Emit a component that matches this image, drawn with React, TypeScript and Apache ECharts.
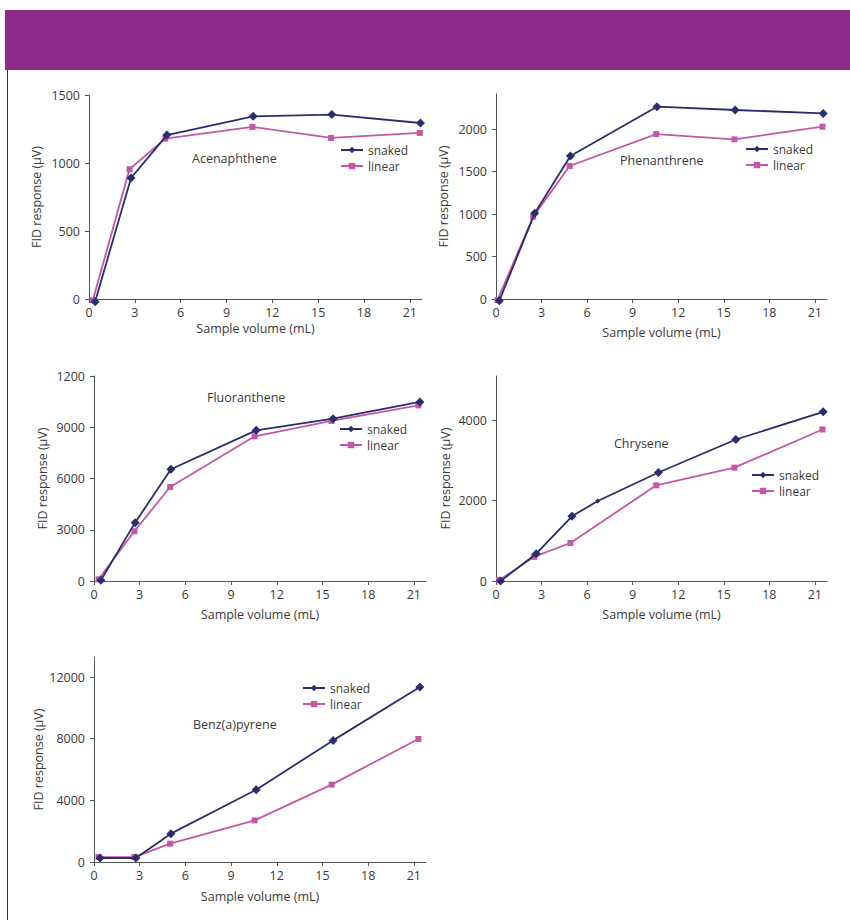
import React, { useEffect, useRef } from "react";
import * as echarts from "echarts";

// ---------- data ----------
const compounds = ["Acenaphthene", "Phenanthrene", "Fluoranthene", "Chrysene", "Benz(a)pyrene"];
const seriesNames = ["snaked", "linear"];
const xTicks = [0, 3, 6, 9, 12, 15, 18, 21];

const acenaphtheneSnakedX = [0.4, 2.75, 5.1, 10.75, 15.9, 21.7];
const acenaphtheneSnakedY = [-20, 890, 1205, 1343, 1356, 1294];
const acenaphtheneLinearX = [0.25, 2.65, 5.0, 10.7, 15.85, 21.65];
const acenaphtheneLinearY = [-10, 954, 1179, 1265, 1184, 1221];

const phenanthreneSnakedX = [0.22, 2.55, 4.9, 10.6, 15.75, 21.55];
const phenanthreneSnakedY = [-20, 1008, 1682, 2263, 2224, 2184];
const phenanthreneLinearX = [0.1, 2.45, 4.85, 10.55, 15.7, 21.5];
const phenanthreneLinearY = [-12, 969, 1565, 1941, 1878, 2027];

const fluorantheneSnakedX = [0.45, 2.7, 5.05, 10.65, 15.7, 21.4];
const fluorantheneSnakedY = [40, 3415, 6540, 8820, 9500, 10480];
const fluorantheneLinearX = [0.3, 2.65, 5.0, 10.55, 15.6, 21.3];
const fluorantheneLinearY = [100, 2910, 5500, 8470, 9370, 10280];

const chryseneSnakedX = [0.3, 2.65, 5.0, 6.7, 10.7, 15.8, 21.55];
const chryseneSnakedY = [0, 680, 1610, 1990, 2700, 3520, 4210];
const chryseneLinearX = [0.2, 2.5, 4.9, 10.55, 15.7, 21.5];
const chryseneLinearY = [20, 600, 945, 2380, 2820, 3770];

const benzSnakedX = [0.4, 2.75, 5.05, 10.65, 15.7, 21.4];
const benzSnakedY = [260, 260, 1840, 4690, 7890, 11350];
const benzLinearX = [0.3, 2.65, 5.0, 10.55, 15.6, 21.3];
const benzLinearY = [320, 320, 1190, 2700, 5020, 7980];

const acenaphtheneYTicks = [0, 500, 1000, 1500];
const acenaphtheneYLabels = ["0", "500", "1000", "1500"];
const phenanthreneYTicks = [0, 500, 1000, 1500, 2000];
const phenanthreneYLabels = ["0", "500", "1000", "1500", "2000"];
const fluorantheneYTicks = [0, 3000, 6000, 9000, 12000];
const fluorantheneYLabels = ["0", "3000", "6000", "9000", "1200"];
const chryseneYTicks = [0, 2000, 4000];
const chryseneYLabels = ["0", "2000", "4000"];
const benzYTicks = [0, 4000, 8000, 12000];
const benzYLabels = ["0", "4000", "8000", "12000"];

const xName = "Sample volume (mL)";
const yName = "FID response (\u03bcV)";

// ---------- layout / style ----------
const FONT = "Open Sans";
const FS = 12.5;
const TEXT = "#3a3a3a";
const AXIS = "#555555";
const NAVY = "#2a2d6e";
const PINK = "#c458a8";
const PURPLE = "#8e2a8a";

const panels = [
  { name: compounds[0], sx: acenaphtheneSnakedX, sy: acenaphtheneSnakedY, lx: acenaphtheneLinearX, ly: acenaphtheneLinearY,
    ticks: acenaphtheneYTicks, labels: acenaphtheneYLabels, ymax: 1500, smallMarker: -1,
    grid: { left: 89, top: 95, width: 333, height: 204 }, yGap: 46, xGap: 23,
    title: { x: 192, y: 158 }, legend: { left: 340, top: 144 } },
  { name: compounds[1], sx: phenanthreneSnakedX, sy: phenanthreneSnakedY, lx: phenanthreneLinearX, ly: phenanthreneLinearY,
    ticks: phenanthreneYTicks, labels: phenanthreneYLabels, ymax: 2412, smallMarker: -1,
    grid: { left: 496, top: 94, width: 331, height: 205 }, yGap: 46, xGap: 27,
    title: { x: 620, y: 160 }, legend: { left: 745, top: 143 } },
  { name: compounds[2], sx: fluorantheneSnakedX, sy: fluorantheneSnakedY, lx: fluorantheneLinearX, ly: fluorantheneLinearY,
    ticks: fluorantheneYTicks, labels: fluorantheneYLabels, ymax: 12000, smallMarker: -1,
    grid: { left: 94, top: 376, width: 332, height: 205 }, yGap: 45, xGap: 27,
    title: { x: 207, y: 397 }, legend: { left: 339, top: 423 } },
  { name: compounds[3], sx: chryseneSnakedX, sy: chryseneSnakedY, lx: chryseneLinearX, ly: chryseneLinearY,
    ticks: chryseneYTicks, labels: chryseneYLabels, ymax: 5100, smallMarker: 3,
    grid: { left: 496, top: 376, width: 331, height: 205 }, yGap: 44, xGap: 27,
    title: { x: 614, y: 443 }, legend: { left: 751, top: 469 } },
  { name: compounds[4], sx: benzSnakedX, sy: benzSnakedY, lx: benzLinearX, ly: benzLinearY,
    ticks: benzYTicks, labels: benzYLabels, ymax: 13300, smallMarker: -1,
    grid: { left: 94, top: 657, width: 332, height: 205 }, yGap: 45, xGap: 28,
    title: { x: 193, y: 724 }, legend: { left: 302, top: 682 } },
];

const XMAX = 21.8;

function pairs(xs: number[], ys: number[]) {
  return xs.map((x, i) => [x, ys[i]]);
}

export default function App() {
  const ref = useRef<HTMLDivElement>(null);
  useEffect(() => {
    if (!ref.current) return;
    const chart = echarts.init(ref.current, undefined, { renderer: "svg" });

    const grid: any[] = [];
    const xAxis: any[] = [];
    const yAxis: any[] = [];
    const series: any[] = [];
    const legend: any[] = [];
    const graphic: any[] = [
      { type: "rect", shape: { x: 5, y: 10, width: 845, height: 60 }, style: { fill: PURPLE }, silent: true },
      { type: "line", shape: { x1: 7.5, y1: 70, x2: 7.5, y2: 920 }, style: { stroke: "#333", lineWidth: 1 }, silent: true },
    ];

    panels.forEach((p, i) => {
      grid.push({ ...p.grid, containLabel: false });
      xAxis.push({
        type: "value", gridIndex: i, min: 0, max: XMAX,
        name: xName, nameLocation: "middle", nameGap: p.xGap,
        nameTextStyle: { color: TEXT, fontSize: FS, fontFamily: FONT },
        splitLine: { show: false },
        axisLine: { show: true, onZero: false, lineStyle: { color: AXIS, width: 1 } },
        axisTick: { show: true, length: 4, customValues: xTicks, lineStyle: { color: AXIS } },
        axisLabel: { customValues: xTicks, color: TEXT, fontSize: FS, fontFamily: FONT, margin: 7 },
      });
      const labels = p.labels;
      const ticks = p.ticks;
      yAxis.push({
        type: "value", gridIndex: i, min: 0, max: p.ymax,
        name: yName, nameLocation: "middle", nameGap: p.yGap,
        nameTextStyle: { color: TEXT, fontSize: FS, fontFamily: FONT },
        splitLine: { show: false },
        axisLine: { show: true, lineStyle: { color: AXIS, width: 1 } },
        axisTick: { show: true, length: 4, customValues: ticks, lineStyle: { color: AXIS } },
        axisLabel: {
          customValues: ticks, color: TEXT, fontSize: FS, fontFamily: FONT, margin: 9,
          formatter: (v: number) => {
            const k = ticks.indexOf(v);
            return k >= 0 ? labels[k] : "";
          },
        },
      });
      const small = p.smallMarker;
      series.push({
        type: "line", name: seriesNames[0], xAxisIndex: i, yAxisIndex: i,
        data: pairs(p.sx, p.sy), clip: false,
        symbol: "diamond",
        symbolSize: (_v: any, params: any) => (params && params.dataIndex === small ? 5 : 9),
        lineStyle: { color: NAVY, width: 1.8 }, itemStyle: { color: NAVY },
        z: 3,
      });
      series.push({
        type: "line", name: seriesNames[1], xAxisIndex: i, yAxisIndex: i,
        data: pairs(p.lx, p.ly), clip: false,
        symbol: "rect", symbolSize: 6,
        lineStyle: { color: PINK, width: 1.8 }, itemStyle: { color: PINK },
        z: 2,
      });
      legend.push({
        data: seriesNames, orient: "vertical", left: p.legend.left, top: p.legend.top,
        itemWidth: 22, itemHeight: 8, itemGap: 4, padding: 0,
        textStyle: { color: TEXT, fontSize: 12, lineHeight: 12, fontFamily: FONT },
        selectedMode: false,
      });
      graphic.push({
        type: "text", x: p.title.x, y: p.title.y, silent: true,
        style: { text: p.name, fill: TEXT, fontSize: FS, fontFamily: FONT, textVerticalAlign: "middle", textAlign: "left" },
      });
    });

    chart.setOption({
      animation: false,
      backgroundColor: "#ffffff",
      textStyle: { fontFamily: FONT },
      grid, xAxis, yAxis, series, legend, graphic,
    });
    return () => chart.dispose();
  }, []);

  return (
    <div
      ref={ref}
      style={{ position: "fixed", left: 0, top: 0, width: 850, height: 920, background: "#fff" }}
    />
  );
}
